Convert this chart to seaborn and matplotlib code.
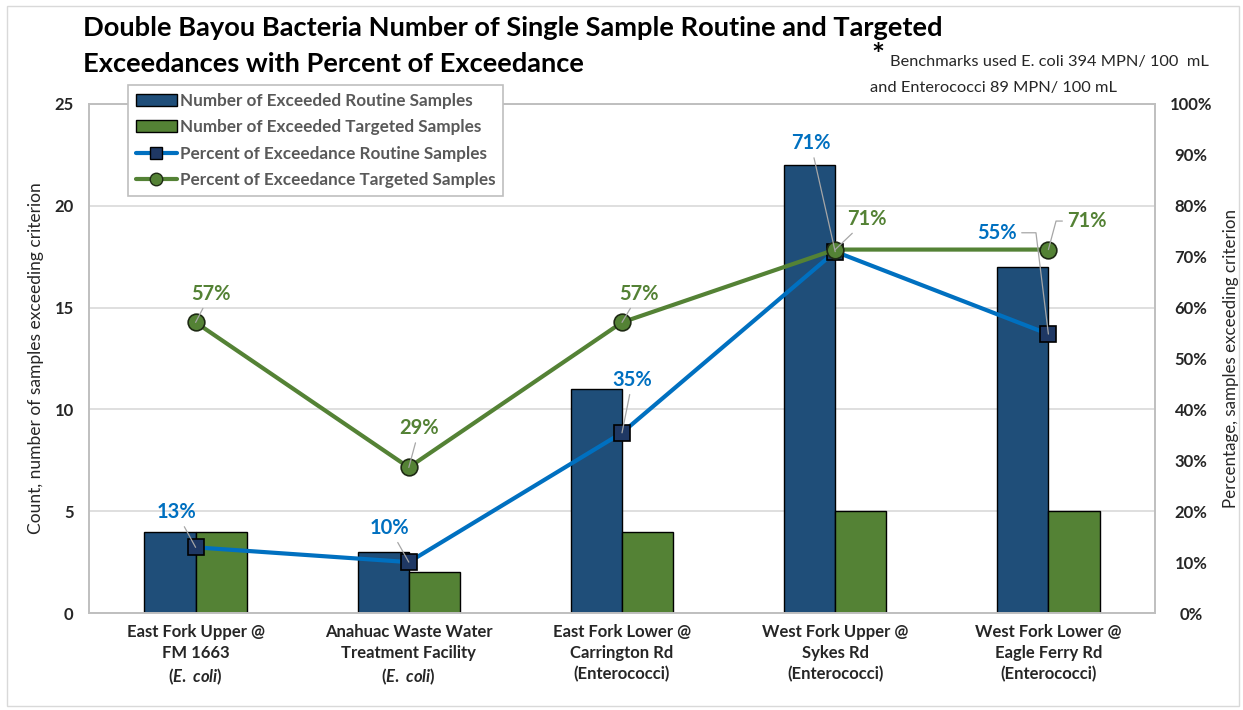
import matplotlib
matplotlib.use("Agg")
import matplotlib.pyplot as plt
from matplotlib.patches import Patch, Rectangle
from matplotlib.lines import Line2D
import seaborn as sns
import pandas as pd

# ---- data ----
sites = [
    "East Fork Upper @\nFM 1663\n($\\mathit{E.\\ coli}$)",
    "Anahuac Waste Water\nTreatment Facility\n($\\mathit{E.\\ coli}$)",
    "East Fork Lower @\nCarrington Rd\n(Enterococci)",
    "West Fork Upper @\nSykes Rd\n(Enterococci)",
    "West Fork Lower @\nEagle Ferry Rd\n(Enterococci)",
]
routine_counts = [4, 3, 11, 22, 17]
targeted_counts = [4, 2, 4, 5, 5]
routine_pct = [12.9, 10.0, 35.4, 71.0, 54.8]
targeted_pct = [57.1, 28.6, 57.1, 71.4, 71.4]
left_ticks = [0, 5, 10, 15, 20, 25]
right_ticks = [0, 10, 20, 30, 40, 50, 60, 70, 80, 90, 100]

series_names = ["Number of Exceeded Routine Samples", "Number of Exceeded Targeted Samples"]
line_names = ["Percent of Exceedance Routine Samples", "Percent of Exceedance Targeted Samples"]

# ---- style ----
sns.set_theme(style="white")
plt.rcParams["font.family"] = ["Lato", "DejaVu Sans"]
plt.rcParams["font.weight"] = "bold"
plt.rcParams["mathtext.fontset"] = "custom"
plt.rcParams["mathtext.it"] = "Lato:italic:bold"
plt.rcParams["mathtext.rm"] = "Lato:bold"

C_ROUT = "#1F4E79"
C_TARG = "#548235"
C_BLUE = "#0070C0"
C_SQ = "#1F3864"
C_GRID = "#D9D9D9"
C_FRAME = "#BFBFBF"
C_TXT = "#262626"

W, H = 1243, 710
fig = plt.figure(figsize=(W / 100, H / 100), dpi=100)
AX_L, AX_R, AX_T, AX_B = 89, 1155, 104, 613
ax = fig.add_axes([AX_L / W, (H - AX_B) / H, (AX_R - AX_L) / W, (AX_B - AX_T) / H])

df = pd.DataFrame({
    "site": list(range(5)) * 2,
    "count": routine_counts + targeted_counts,
    "series": [series_names[0]] * 5 + [series_names[1]] * 5,
})
sns.barplot(data=df, x="site", y="count", hue="series", hue_order=series_names,
            palette=[C_ROUT, C_TARG], width=0.48, dodge=True, saturation=1,
            edgecolor="black", linewidth=1.0, ax=ax, legend=False, zorder=2)

ax.set_xlim(-0.5, 4.5)
ax.set_ylim(0, 25)
ax.set_yticks(left_ticks)
ax.set_yticklabels([str(t) for t in left_ticks], fontsize=12, color=C_TXT)
ax.set_xticks(range(5))
ax.set_xticklabels(sites, fontsize=12, color=C_TXT, linespacing=1.38)
ax.tick_params(axis="both", length=0)
ax.tick_params(axis="y", pad=11)
ax.tick_params(axis="x", pad=8)
ax.yaxis.grid(True, color=C_GRID, linewidth=1.2, zorder=0)
ax.set_axisbelow(True)
ax.set_xlabel("")
ax.set_ylabel("Count, number of samples exceeding criterion", fontsize=12.5,
              color=C_TXT)
ax.yaxis.set_label_coords((44 - AX_L) / (AX_R - AX_L), 0.5)
for s in ax.spines.values():
    s.set_color(C_FRAME)
    s.set_linewidth(1.2)

# ---- percentage lines on secondary axis ----
ax2 = ax.twinx()
xs = list(range(5))
sns.lineplot(x=xs, y=routine_pct, ax=ax2, color=C_BLUE, linewidth=3, sort=False,
             marker="s", markersize=11, markerfacecolor=C_SQ, markeredgecolor="black",
             markeredgewidth=1.2, zorder=4)
sns.lineplot(x=xs, y=targeted_pct, ax=ax2, color=C_TARG, linewidth=3, sort=False,
             marker="o", markersize=12, markerfacecolor=C_TARG, markeredgecolor="#1E2A14",
             markeredgewidth=1.2, zorder=5)
ax2.set_ylim(0, 100)
ax2.set_xlim(-0.5, 4.5)
ax2.set_yticks(right_ticks)
ax2.set_yticklabels([f"{t}%" for t in right_ticks], fontsize=12, color=C_TXT, ha="center")
ax2.tick_params(axis="y", length=0, pad=26)
ax2.set_ylabel("Percentage, samples exceeding criterion", fontsize=12.2,
               color=C_TXT)
ax2.yaxis.set_label_coords((1223 - AX_L) / (AX_R - AX_L), 0.5)
for s in ax2.spines.values():
    s.set_color(C_FRAME)
    s.set_linewidth(1.2)

# ---- value labels with leader lines ----
lead = dict(arrowstyle="-", color="#A6A6A6", lw=0.9, shrinkA=1, shrinkB=0)
routine_label_pos = [(-0.09, 19.8), (0.91, 16.7), (2.05, 45.8), (2.885, 92.3), (3.76, 74.7)]
targeted_label_pos = [(0.07, 62.7), (1.05, 36.3), (2.08, 62.7), (3.15, 77.4), (4.18, 77.0)]
routine_bend = {4: "angle,angleA=0,angleB=97,rad=0"}
targeted_bend = {4: "angle,angleA=0,angleB=75,rad=0"}
for i, (v, (tx, ty)) in enumerate(zip(routine_pct, routine_label_pos)):
    props = dict(lead)
    if i in routine_bend:
        props["connectionstyle"] = routine_bend[i]
    ax2.annotate(f"{v:.0f}%", xy=(i, v), xytext=(tx, ty), textcoords="data",
                 ha="center", va="center", fontsize=14.5, color=C_BLUE,
                 fontweight="bold", arrowprops=props, zorder=6)
for i, (v, (tx, ty)) in enumerate(zip(targeted_pct, targeted_label_pos)):
    props = dict(lead)
    if i in targeted_bend:
        props["connectionstyle"] = targeted_bend[i]
    ax2.annotate(f"{v:.0f}%", xy=(i, v), xytext=(tx, ty), textcoords="data",
                 ha="center", va="center", fontsize=14.5, color=C_TARG,
                 fontweight="bold", arrowprops=props, zorder=6)

# ---- legend ----
handles = [
    Patch(facecolor=C_ROUT, edgecolor="black", linewidth=1.0),
    Patch(facecolor=C_TARG, edgecolor="black", linewidth=1.0),
    Line2D([], [], color=C_BLUE, lw=3, marker="s", markersize=9,
           markerfacecolor=C_SQ, markeredgecolor="black"),
    Line2D([], [], color=C_TARG, lw=3, marker="o", markersize=9,
           markerfacecolor=C_TARG, markeredgecolor="#1E2A14"),
]
leg = fig.legend(handles, series_names + line_names, loc="upper left",
                 bbox_to_anchor=(128 / W, 1 - 85 / H), frameon=True, fancybox=False,
                 edgecolor=C_FRAME, framealpha=1, fontsize=12.3, handlelength=2.4,
                 handletextpad=0.2, labelspacing=0.62, borderpad=0.45, borderaxespad=0)
leg.get_frame().set_linewidth(1.2)
for t in leg.get_texts():
    t.set_color("#595959")
    t.set_fontweight("bold")

# ---- title and footnote ----
fig.text(83 / W, 1 - 28 / H, "Double Bayou Bacteria Number of Single Sample Routine and Targeted",
         fontsize=19.6, fontweight="bold", color="black", ha="left", va="center")
fig.text(83 / W, 1 - 64 / H, "Exceedances with Percent of Exceedance",
         fontsize=19.6, fontweight="bold", color="black", ha="left", va="center")
fig.text(871 / W, 1 - 56 / H, "*", fontsize=22, fontweight="bold", color="black",
         ha="left", va="center")
fig.text(890 / W, 1 - 62 / H, "Benchmarks used E. coli 394 MPN/ 100  mL",
         fontsize=11.8, fontweight="normal", color=C_TXT, ha="left", va="center")
fig.text(870 / W, 1 - 88 / H, "and Enterococci 89 MPN/ 100 mL",
         fontsize=11.8, fontweight="normal", color=C_TXT, ha="left", va="center")

# outer chart border
fig.patches.append(Rectangle((7 / W, 4 / H), (1239 - 7) / W, (704 - 4) / H,
                             transform=fig.transFigure, fill=False,
                             edgecolor="#D9D9D9", linewidth=1.0))

fig.savefig("out.png", dpi=100)
